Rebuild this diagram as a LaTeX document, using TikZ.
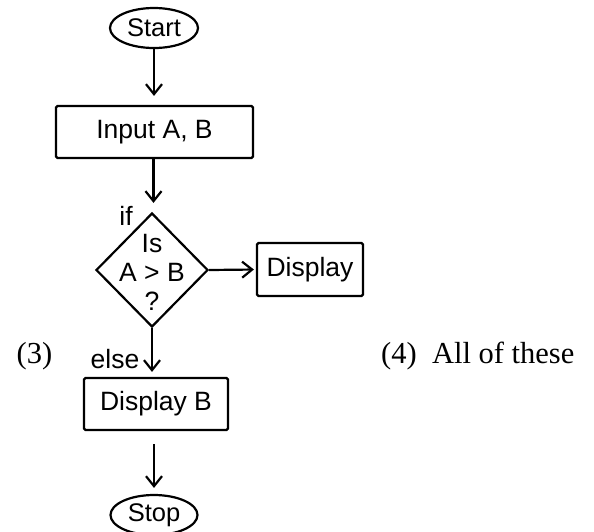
\documentclass[tikz,border=0pt]{standalone}
\usepackage{fontspec}
\setmainfont{Liberation Serif}
\setsansfont{Liberation Sans}
\usetikzlibrary{shapes.geometric,arrows.meta}
\tikzset{
  lbl/.style={font=\sffamily\fontsize{26.5}{29}\selectfont, inner sep=0pt},
  term/.style={ellipse, draw, line width=2.2pt, inner sep=0pt, font=\sffamily\fontsize{25.5}{29}\selectfont},
  procbox/.style={rectangle, draw, line width=2.2pt, rounded corners=1.5pt, inner sep=0pt, font=\sffamily\fontsize{26.5}{29}\selectfont},
  decbox/.style={diamond, draw, line width=2.2pt, inner sep=0pt},
  flow/.style={line width=2.2pt, -{Straight Barb[length=10pt,width=16pt,line width=2.2pt]}},
  opt/.style={font=\fontsize{30.5}{33}\selectfont, inner sep=0pt, anchor=base west}
}
\begin{document}
\begin{tikzpicture}[x=1pt,y=-1pt]
\useasboundingbox (0,0) rectangle (594,531);
\node[term, minimum width=88pt, minimum height=40pt] (start) at (154,28) {Start};
\node[procbox, minimum width=197pt, minimum height=52pt] (input) at (154.5,132) {Input A, B};
\node[decbox, minimum width=112pt, minimum height=114pt] (dec) at (152,270) {};
\node[lbl, anchor=base] (t1) at (152,252) {Is};
\node[lbl, anchor=base] (t2) at (152,281) {A > B};
\node[lbl, anchor=base] (t3) at (152,310) {?};
\node[procbox, minimum width=106pt, minimum height=53pt] (disp) at (310,269.5) {Display};
\node[procbox, minimum width=144pt, minimum height=52pt] (dispb) at (156,404) {Display B};
\node[term, minimum width=87pt, minimum height=40pt] (stop) at (154,515) {Stop};
\node[lbl, anchor=base] (if) at (126,225) {if};
\node[lbl, anchor=base] (else) at (115,368) {else};
\node[opt, anchor=base] (o3) at (34.5,363) {(3)};
\node[opt] (o4) at (381,363) {(4)\hspace{0.5em}All of these};
\draw[flow, shorten >=9pt] (start.south) -- (input.north -| start.south);
\draw[flow, shorten >=9pt] (input.south -| 153.5,0) -- (dec.north -| 153.5,0);
\draw[flow, shorten >=2pt] (dec.east) -- (disp.west);
\draw[flow, shorten >=5pt] (dec.south) -- (dec.south |- dispb.north);
\draw[flow, shorten <=13pt, shorten >=6pt] (dispb.south -| stop.north) -- (stop.north);
\end{tikzpicture}
\end{document}
